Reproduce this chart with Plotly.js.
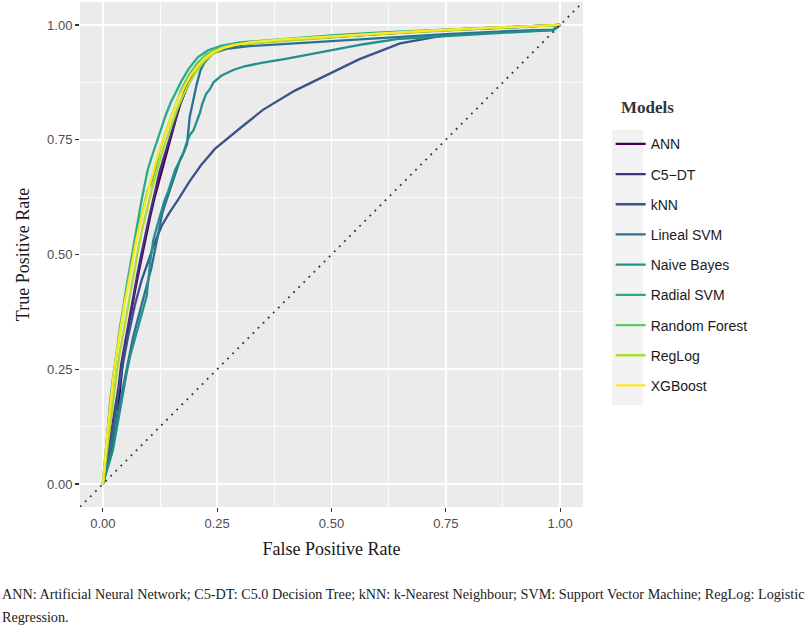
<!DOCTYPE html>
<html>
<head>
<meta charset="utf-8">
<script src="https://cdn.plot.ly/plotly-3.0.1.min.js"></script>
<style>html,body{margin:0;padding:0;background:#fff;}#chart{width:809px;height:628px;}</style>
</head>
<body>
<div id="chart"></div>
<script>
const models = ["ANN", "C5\u2212DT", "kNN", "Lineal SVM", "Naive Bayes", "Radial SVM", "Random Forest", "RegLog", "XGBoost"];
const colors = ["#440154", "#472D7B", "#3B528B", "#2C728E", "#21908C", "#27AD81", "#5DC863", "#AADC32", "#FDE725"];

const annFpr = [0,.01,.018,.025,.03,.034,.038,.044,.05,.057,.064,.072,.08,.088,.096,.104,.112,.12,.128,.136,.144,.152,.161,.17,.18,.19,.202,.215,.23,.25,.28,.32,.4,.5,.6,.72,.85,1];
const annTpr = [0,.04,.07,.1,.13,.17,.22,.27,.31,.35,.39,.43,.47,.51,.55,.585,.62,.65,.68,.71,.74,.77,.80,.83,.855,.878,.9,.918,.932,.944,.953,.96,.967,.974,.98,.987,.993,1];

const c5Fpr = [0,.008,.015,.022,.028,.034,.04,.047,.054,.061,.068,.076,.084,.092,.1,.108,.116,.124,.133,.142,.151,.16,.17,.18,.192,.205,.22,.238,.26,.29,.35,.45,.55,.65,.78,.9,1];
const c5Tpr = [0,.05,.09,.13,.17,.21,.26,.3,.34,.38,.42,.46,.5,.54,.575,.61,.645,.68,.71,.74,.77,.80,.83,.858,.885,.905,.925,.94,.95,.957,.964,.971,.978,.984,.991,.996,1];

const knnFpr = [0,.012,.025,.04,.055,.07,.085,.1,.115,.13,.145,.165,.19,.215,.245,.3,.35,.42,.5,.56,.65,.75,.87,.985,1];
const knnTpr = [0,.06,.14,.24,.32,.39,.445,.49,.53,.565,.59,.62,.66,.695,.73,.775,.815,.857,.895,.925,.96,.978,.985,.989,1];

const lsvmFpr = [0,.01,.018,.026,.034,.042,.05,.058,.066,.074,.082,.09,.098,.106,.114,.122,.13,.138,.146,.154,.162,.17,.178,.184,.19,.198,.205,.213,.222,.24,.27,.32,.4,.5,.6,.75,.9,.985,1];
const lsvmTpr = [0,.04,.08,.12,.16,.2,.24,.28,.32,.35,.38,.41,.44,.47,.51,.55,.59,.615,.64,.665,.69,.71,.725,.74,.8,.84,.87,.9,.918,.938,.948,.954,.959,.965,.971,.98,.987,.99,1];

const nbFpr = [0,.008,.015,.022,.03,.038,.045,.052,.06,.068,.076,.084,.09,.096,.103,.11,.118,.126,.134,.142,.15,.158,.166,.174,.182,.19,.198,.206,.212,.218,.226,.234,.242,.26,.285,.31,.35,.4,.45,.5,.57,.65,.75,.87,.985,1];
const nbTpr = [0,.03,.05,.074,.12,.16,.2,.242,.28,.31,.34,.37,.39,.41,.48,.53,.56,.59,.615,.635,.66,.684,.70,.715,.74,.76,.77,.79,.808,.83,.85,.86,.875,.89,.902,.91,.918,.926,.935,.945,.958,.97,.976,.982,.989,1];

const rsvmFpr = [0,.005,.01,.016,.022,.029,.036,.043,.05,.057,.063,.07,.077,.084,.091,.098,.106,.114,.122,.13,.138,.148,.16,.173,.188,.208,.23,.26,.3,.4,.5,.6,.75,.9,1];
const rsvmTpr = [0,.06,.12,.18,.23,.28,.33,.38,.42,.46,.495,.54,.582,.615,.65,.684,.71,.735,.76,.785,.805,.83,.855,.88,.905,.93,.945,.955,.962,.97,.977,.983,.99,.995,1];

const rfFpr = [0,.006,.012,.018,.024,.03,.037,.044,.051,.058,.066,.074,.082,.09,.098,.106,.114,.118,.125,.135,.146,.158,.172,.188,.205,.225,.25,.28,.35,.45,.55,.65,.78,.9,1];
const rfTpr = [0,.07,.13,.19,.24,.29,.34,.38,.42,.46,.50,.54,.575,.61,.64,.655,.675,.70,.73,.76,.79,.825,.86,.89,.915,.935,.948,.956,.964,.971,.978,.984,.991,.996,1];

const rlFpr = [0,.006,.012,.018,.024,.03,.036,.043,.05,.057,.064,.071,.078,.085,.092,.1,.108,.116,.124,.132,.141,.151,.162,.175,.19,.205,.222,.242,.265,.3,.4,.5,.6,.72,.85,1];
const rlTpr = [0,.05,.1,.15,.2,.24,.28,.32,.36,.4,.44,.48,.515,.55,.58,.615,.645,.675,.705,.73,.755,.785,.815,.845,.875,.9,.922,.938,.95,.958,.966,.973,.98,.987,.993,1];

const xgbFpr = [0,.004,.009,.014,.019,.023,.028,.034,.040,.047,.053,.060,.067,.074,.081,.088,.095,.103,.111,.118,.125,.133,.142,.153,.165,.178,.192,.207,.222,.240,.262,.290,.33,.40,.50,.60,.72,.85,1];
const xgbTpr = [0,.05,.10,.15,.20,.233,.27,.31,.35,.39,.42,.46,.50,.535,.565,.595,.625,.655,.685,.71,.733,.755,.78,.81,.84,.865,.89,.91,.927,.94,.95,.957,.963,.969,.975,.981,.988,.994,1];

const diagX = [-0.05, 1.05];
const diagY = [-0.05, 1.05];

const tickVals = [0, 0.25, 0.5, 0.75, 1];
const tickText = ["0.00", "0.25", "0.50", "0.75", "1.00"];

const caption1 = "ANN: Artificial Neural Network; C5-DT: C5.0 Decision Tree; kNN: k-Nearest Neighbour; SVM: Support Vector Machine; RegLog: Logistic";
const caption2 = "Regression.";

const fprs = [annFpr, c5Fpr, knnFpr, lsvmFpr, nbFpr, rsvmFpr, rfFpr, rlFpr, xgbFpr];
const tprs = [annTpr, c5Tpr, knnTpr, lsvmTpr, nbTpr, rsvmTpr, rfTpr, rlTpr, xgbTpr];

const traces = models.map((m, i) => ({
  type: "scatter", mode: "lines", name: m,
  x: fprs[i], y: tprs[i],
  line: {color: colors[i], width: 2.3},
  legendgroup: "g" + i
}));
traces.push({
  type: "scatter", mode: "lines", x: diagX, y: diagY, showlegend: false,
  line: {color: "#333333", width: 1.8, dash: "1.8px,5.4px"}, hoverinfo: "skip"
});

const axisCommon = {
  range: [-0.05, 1.05], tickmode: "array", tickvals: tickVals, ticktext: tickText,
  showgrid: true, gridcolor: "#FFFFFF", gridwidth: 1.6, zeroline: false,
  ticks: "outside", ticklen: 4, tickwidth: 1.2, tickcolor: "#333333",
  tickfont: {family: "Liberation Sans, Arial, sans-serif", size: 13, color: "#4D4D4D"},
  minor: {tickmode: "linear", tick0: 0.125, dtick: 0.25, showgrid: true, gridcolor: "#FFFFFF", gridwidth: 0.8, ticks: ""},
  showline: false, fixedrange: true
};

const layout = {
  width: 809, height: 628,
  margin: {l: 80, r: 226, t: 2, b: 121},
  paper_bgcolor: "#FFFFFF", plot_bgcolor: "#EBEBEB",
  showlegend: true,
  xaxis: Object.assign({}, axisCommon, {
    title: {text: "False Positive Rate", font: {family: "Liberation Serif, Times New Roman, serif", size: 18, color: "#1a1a1a"}, standoff: 12}
  }),
  yaxis: Object.assign({}, axisCommon, {
    title: {text: "True Positive Rate", font: {family: "Liberation Serif, Times New Roman, serif", size: 18, color: "#1a1a1a"}, standoff: 12}
  }),
  legend: {
    x: 1.055, xanchor: "left", y: 0.75, yanchor: "top",
    bgcolor: "rgba(0,0,0,0)", borderwidth: 0,
    font: {family: "Liberation Sans, Arial, sans-serif", size: 14, color: "#1a1a1a"},
    tracegroupgap: 9, itemwidth: 30
  },
  shapes: [{
    type: "rect", xref: "paper", yref: "paper",
    x0: (612 - 80) / 503, x1: (643 - 80) / 503,
    y0: (507 - 405) / 505, y1: (507 - 130) / 505,
    fillcolor: "#F2F2F2", line: {width: 0}, layer: "below"
  }],
  annotations: [
    {text: "<b>Models</b>", xref: "paper", yref: "paper", x: (619 - 80) / 503, y: (507 - 108) / 505,
     xanchor: "left", yanchor: "middle", showarrow: false,
     font: {family: "Liberation Serif, Times New Roman, serif", size: 17, color: "#333333"}},
    {text: caption1, xref: "paper", yref: "paper", x: (0 - 80) / 503, y: (507 - 594) / 505,
     xanchor: "left", yanchor: "middle", showarrow: false,
     font: {family: "Liberation Serif, Times New Roman, serif", size: 14.2, color: "#222222"}},
    {text: caption2, xref: "paper", yref: "paper", x: (0 - 80) / 503, y: (507 - 617) / 505,
     xanchor: "left", yanchor: "middle", showarrow: false,
     font: {family: "Liberation Serif, Times New Roman, serif", size: 14.2, color: "#222222"}}
  ]
};

Plotly.newPlot("chart", traces, layout, {displayModeBar: false, staticPlot: true});
</script>
</body>
</html>
